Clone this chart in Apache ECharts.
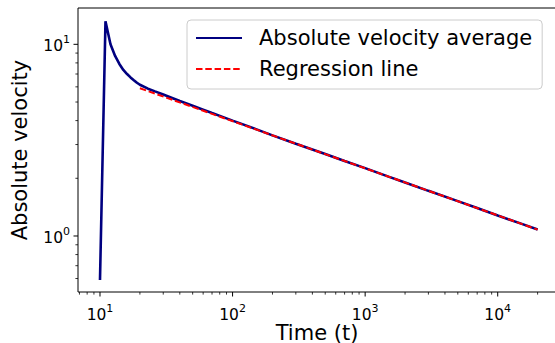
<!DOCTYPE html>
<html>
<head>
<meta charset="utf-8">
<script src="https://cdn.jsdelivr.net/npm/echarts@6/dist/echarts.min.js"></script>
<style>
html,body{margin:0;padding:0;background:#fff;}
#chart{width:555px;height:343px;}
</style>
</head>
<body>
<div id="chart"></div>
<script>
// Time values (t) for the average curve
const timeValues = [10, 11, 12, 13, 14, 15, 16, 17, 18, 19, 20, 23, 26, 30, 35, 40, 50, 60, 70, 85, 100, 150, 200, 300, 500, 700, 1000, 1500, 2000, 3000, 5000, 7000, 10000, 15000, 20000];
// Absolute velocity average
const velocityValues = [0.59, 13.2, 10.0, 8.7, 7.9, 7.35, 7.0, 6.72, 6.5, 6.3, 6.15, 5.87, 5.68, 5.47, 5.25, 5.06, 4.78, 4.56, 4.38, 4.17, 4.0, 3.61, 3.35, 3.03, 2.68, 2.46, 2.26, 2.04, 1.90, 1.72, 1.52, 1.40, 1.28, 1.16, 1.08];
// Regression line end points
const regressionTime = [20, 20000];
const regressionVelocity = [5.9, 1.08];
// Tick positions
const xMajorTicks = [10, 100, 1000, 10000];
const xMinorTicks = [7, 8, 9, 20, 30, 40, 50, 60, 70, 80, 90, 200, 300, 400, 500, 600, 700, 800, 900, 2000, 3000, 4000, 5000, 6000, 7000, 8000, 9000, 20000];
const yMajorTicks = [1, 10];
const yMinorTicks = [0.6, 0.7, 0.8, 0.9, 2, 3, 4, 5, 6, 7, 8, 9];

const FONT = 'DejaVu Sans';
const chart = echarts.init(document.getElementById('chart'), null, {renderer: 'svg'});

const curveData = timeValues.map((t, i) => [t, velocityValues[i]]);
const regData = regressionTime.map((t, i) => [t, regressionVelocity[i]]);
const xTickData = xMajorTicks.map(v => [v, 1]).concat(xMinorTicks.map(v => [v, 0]));
const yTickData = yMajorTicks.map(v => [1, v, 1]).concat(yMinorTicks.map(v => [1, v, 0]));

function powLabel(v) {
  const e = Math.log10(v);
  const r = Math.round(e);
  if (Math.abs(e - r) > 1e-6) return '';
  return '{b|10}{s|' + r + '}';
}
const rich = {
  b: {fontFamily: FONT, fontSize: 15.5, color: '#000', lineHeight: 20, verticalAlign: 'bottom'},
  s: {fontFamily: FONT, fontSize: 11, color: '#000', lineHeight: 20, verticalAlign: 'top'}
};

chart.setOption({
  animation: false,
  backgroundColor: '#fff',
  grid: {left: 78, top: 8, right: -1, bottom: 51, outerBoundsMode: 'none', containLabel: false,
    show: true, borderColor: '#000', borderWidth: 1, backgroundColor: 'transparent'},
  xAxis: {
    type: 'log', logBase: 10, min: 6.825, max: 27520,
    name: 'Time (t)', nameLocation: 'middle', nameGap: 30, nameMoveOverlap: false,
    nameTextStyle: {fontFamily: FONT, fontSize: 21, color: '#000'},
    axisLine: {show: false}, axisTick: {show: false}, splitLine: {show: false},
    axisLabel: {formatter: powLabel, rich: rich, margin: 11}
  },
  yAxis: {
    type: 'log', logBase: 10, min: 0.5103, max: 15.47, splitNumber: 2,
    name: 'Absolute velocity', nameLocation: 'middle', nameGap: 48, nameRotate: 90, nameMoveOverlap: false,
    nameTextStyle: {fontFamily: FONT, fontSize: 21, color: '#000'},
    axisLine: {show: false}, axisTick: {show: false}, splitLine: {show: false},
    axisLabel: {formatter: powLabel, rich: rich, margin: 8}
  },
  legend: {
    orient: 'vertical', left: 187, top: 20,
    padding: [6, 10, 8, 8], itemWidth: 46, itemHeight: 14, itemGap: 7,
    backgroundColor: 'rgba(255,255,255,0.8)', borderColor: '#cccccc', borderWidth: 1, borderRadius: 4,
    itemStyle: {opacity: 0, color: 'rgba(0,0,0,0)', borderWidth: 0},
    textStyle: {fontFamily: FONT, fontSize: 21, color: '#000', lineHeight: 24, padding: [0, 0, 0, 12]},
    data: ['Absolute velocity average', 'Regression line']
  },
  series: [
    {
      name: 'Absolute velocity average', type: 'line', data: curveData,
      showSymbol: false, symbol: 'none', color: '#000080',
      lineStyle: {color: '#000080', width: 2.6}, z: 3
    },
    {
      name: 'Regression line', type: 'line', data: regData,
      showSymbol: false, symbol: 'none', color: '#ff0000',
      lineStyle: {color: '#ff0000', width: 2, type: [6.5, 2.8]}, z: 4
    },
    {
      type: 'custom', silent: true, clip: false, data: xTickData,
      renderItem: function (params, api) {
        const cs = params.coordSys;
        const x = api.coord([api.value(0), 1])[0];
        const major = api.value(1) === 1;
        const y0 = cs.y + cs.height;
        return {type: 'line', shape: {x1: x, y1: y0, x2: x, y2: y0 + (major ? 4.5 : 2.6)},
          style: {stroke: '#000', lineWidth: major ? 1 : 0.8}};
      }
    },
    {
      type: 'custom', silent: true, clip: false, data: yTickData,
      renderItem: function (params, api) {
        const cs = params.coordSys;
        const y = api.coord([10, api.value(1)])[1];
        const major = api.value(2) === 1;
        const x0 = cs.x;
        return {type: 'line', shape: {x1: x0, y1: y, x2: x0 - (major ? 4.5 : 2.6), y2: y},
          style: {stroke: '#000', lineWidth: major ? 1 : 0.8}};
      }
    }
  ]
});
</script>
</body>
</html>
